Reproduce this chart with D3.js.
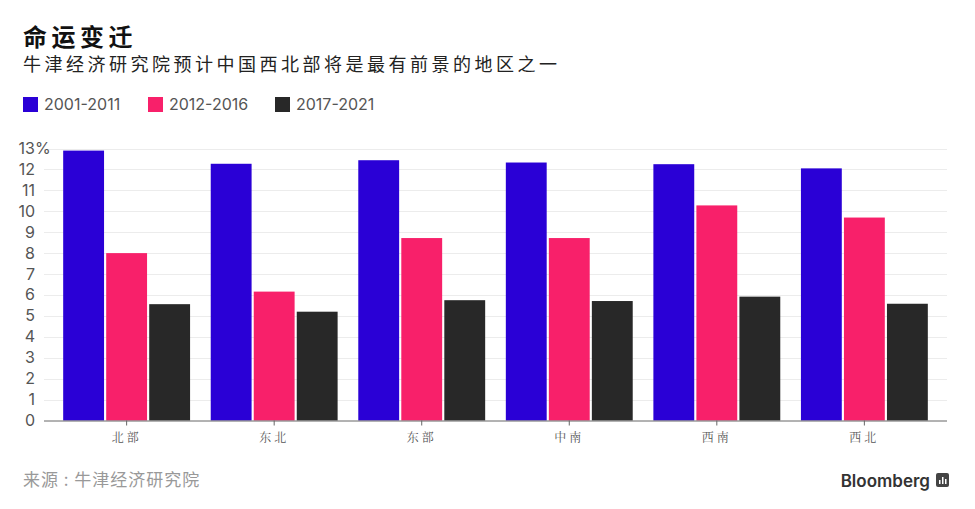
<!DOCTYPE html>
<html><head><meta charset="utf-8">
<script src="https://cdn.jsdelivr.net/npm/d3@7"></script>
<style>body{margin:0;background:#fff;} svg{display:block;font-family:"Noto Sans CJK SC","Noto Sans",sans-serif;}</style>
</head><body><svg id="c" width="975" height="509"></svg>
<script>
const categories = ["北部","东北","东部","中南","西南","西北"];
const seriesNames = ["2001-2011","2012-2016","2017-2021"];
const v2001_2011 = [12.9, 12.27, 12.44, 12.33, 12.25, 12.05];
const v2012_2016 = [8.0, 6.16, 8.72, 8.72, 10.28, 9.7];
const v2017_2021 = [5.56, 5.2, 5.75, 5.71, 5.92, 5.58];
const yTicks = [0,1,2,3,4,5,6,7,8,9,10,11,12,13];
const colors = ["#2a00d6","#f8206a","#282828"];

const series = [v2001_2011, v2012_2016, v2017_2021];
const svg = d3.select("#c");

svg.append("text").attr("x",23).attr("y",46).text("命运变迁")
  .attr("font-size",24).attr("font-weight",700).attr("letter-spacing",4.5).attr("fill","#111");
svg.append("text").attr("x",23).attr("y",71).text("牛津经济研究院预计中国西北部将是最有前景的地区之一")
  .attr("font-size",18).attr("letter-spacing",3.5).attr("fill","#222");

const legX = [23,148,275];
seriesNames.forEach((s,i)=>{
  svg.append("rect").attr("x",legX[i]).attr("y",97).attr("width",15).attr("height",15).attr("fill",colors[i]);
  svg.append("text").attr("x",legX[i]+21).attr("y",110).text(s)
    .attr("font-family","Inter, 'Noto Sans', sans-serif").attr("font-size",16).attr("fill","#555");
});

const x0 = d3.scaleBand().domain(categories).range([44,947]).paddingInner(0.14).paddingOuter(0.13);
const x1 = d3.scaleBand().domain(seriesNames).range([0,x0.bandwidth()]).paddingInner(0.05);
const y = d3.scaleLinear().domain([0,13]).range([420.5,148.5]);

// grid
svg.append("g").selectAll("line").data(yTicks.filter(d=>d>0)).join("line")
  .attr("x1",44).attr("x2",947).attr("y1",d=>Math.round(y(d))+0.5).attr("y2",d=>Math.round(y(d))+0.5)
  .attr("stroke","#ececec").attr("stroke-width",1);

// y labels
const yl = svg.append("g");
yTicks.forEach(t=>{
  yl.append("text").attr("x",35).attr("y",y(t)+5.5).attr("text-anchor","end")
    .attr("font-family","Inter, 'Noto Sans', sans-serif").attr("font-size",16).attr("fill","#555").text(t);
  if(t===13) yl.append("text").attr("x",35).attr("y",y(t)+5.5)
    .attr("font-family","Inter, 'Noto Sans', sans-serif").attr("font-size",16).attr("fill","#555").text("%");
});

// bars
const g = svg.append("g");
categories.forEach((c,ci)=>{
  seriesNames.forEach((s,si)=>{
    g.append("rect").attr("x",x0(c)+x1(s)).attr("width",x1.bandwidth())
      .attr("y",y(series[si][ci])).attr("height",y(0)-y(series[si][ci]))
      .attr("fill",colors[si]);
  });
});

// x axis
const xa = svg.append("g").attr("transform",`translate(0,${y(0)})`)
  .call(d3.axisBottom(x0).tickSize(5).tickPadding(8).tickSizeOuter(0));
xa.select(".domain").attr("stroke","#666").attr("d","M44,0.5H947");
xa.selectAll(".tick line").attr("stroke","#666");
xa.selectAll(".tick text").attr("font-family","'Noto Serif CJK SC','Noto Sans CJK SC',serif")
  .attr("font-size",12).attr("letter-spacing",3).attr("fill","#555");

// footer
svg.append("text").attr("x",23).attr("y",486).text("来源 : 牛津经济研究院")
  .attr("font-size",17).attr("letter-spacing",1).attr("fill","#999");
svg.append("text").attr("x",930).attr("y",487).attr("text-anchor","end").text("Bloomberg")
  .attr("font-family","Inter, 'Noto Sans', sans-serif").attr("font-weight",600).attr("font-size",17).attr("fill","#333");
svg.append("rect").attr("x",936).attr("y",473).attr("width",13).attr("height",14).attr("rx",2).attr("fill","#444");
[[939,480,1.5],[942,477,1.5],[945,479,1.5]].forEach(b=>{
  svg.append("rect").attr("x",b[0]).attr("y",b[1]).attr("width",b[2]).attr("height",484-b[1]).attr("fill","#fff");
});
</script></body></html>
